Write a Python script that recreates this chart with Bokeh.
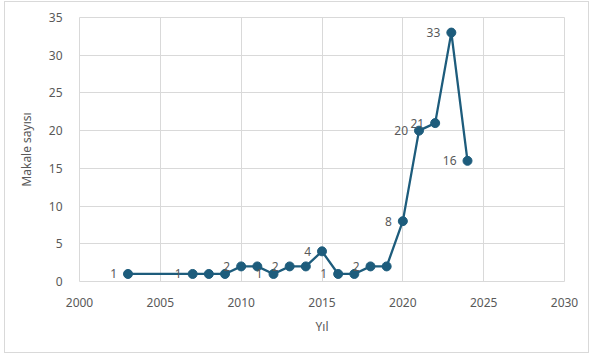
from bokeh.plotting import figure
from bokeh.models import FixedTicker, ColumnDataSource
from bokeh.core.properties import value
from bokeh.embed import file_html
from bokeh.resources import INLINE

# Publications per year
years = [2003, 2007, 2008, 2009, 2010, 2011, 2012, 2013, 2014, 2015,
         2016, 2017, 2018, 2019, 2020, 2021, 2022, 2023, 2024]
counts = [1, 1, 1, 1, 2, 2, 1, 2, 2, 4, 1, 1, 2, 2, 8, 20, 21, 33, 16]

# Years whose value is written next to the marker
label_years = [2003, 2007, 2010, 2012, 2013, 2015, 2016, 2018,
               2020, 2021, 2022, 2023, 2024]

x_ticks = [2000, 2005, 2010, 2015, 2020, 2025, 2030]
y_ticks = [0, 5, 10, 15, 20, 25, 30, 35]

FONT = "Noto Sans"
LINE = "#1d5c7c"
GRID = "#d9d9d9"
TEXT = "#595959"

src = ColumnDataSource(dict(x=years, y=counts))
lab = ColumnDataSource(dict(
    x=[y for y in years if y in label_years],
    y=[c for y, c in zip(years, counts) if y in label_years],
    t=[str(c) for y, c in zip(years, counts) if y in label_years],
))

p = figure(width=583, height=350, output_backend="svg", toolbar_location=None,
           x_range=(2000, 2030), y_range=(0, 35),
           min_border_left=74, min_border_right=24,
           min_border_top=15, min_border_bottom=71,
           margin=(2, 0, 0, 5))
p.styles = {"outline": "1px solid #d9d9d9"}

p.outline_line_color = GRID
p.background_fill_color = "white"
p.border_fill_color = "white"

p.xaxis.ticker = FixedTicker(ticks=x_ticks)
p.yaxis.ticker = FixedTicker(ticks=y_ticks)
p.xgrid.ticker = FixedTicker(ticks=x_ticks)
p.ygrid.ticker = FixedTicker(ticks=y_ticks)
p.grid.grid_line_color = GRID
p.grid.grid_line_width = 1

for ax in (p.xaxis, p.yaxis):
    ax.axis_line_color = None
    ax.major_tick_line_color = None
    ax.minor_tick_line_color = None
    ax.major_label_text_font = FONT
    ax.major_label_text_font_size = "12px"
    ax.major_label_text_color = TEXT
    ax.axis_label_text_font = FONT
    ax.axis_label_text_font_size = "12px"
    ax.axis_label_text_font_style = "normal"
    ax.axis_label_text_color = TEXT

p.xaxis.axis_label = "Yıl"
p.yaxis.axis_label = "Makale sayısı"
p.xaxis.major_label_standoff = 10
p.xaxis.axis_label_standoff = 8
p.yaxis.major_label_standoff = 11
p.yaxis.axis_label_standoff = 11

p.line("x", "y", source=src, line_color=LINE, line_width=2.3)
p.scatter("x", "y", source=src, size=9, fill_color=LINE, line_color=LINE)

p.text("x", "y", text="t", source=lab, x_offset=-11,
       text_align="right", text_baseline="middle",
       text_font=value(FONT), text_font_size="12px", text_color=TEXT)

open("out.html", "w").write(file_html(p, INLINE))
